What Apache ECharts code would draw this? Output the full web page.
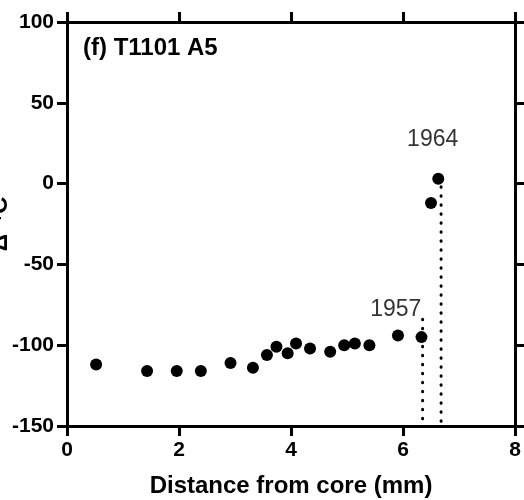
<!DOCTYPE html>
<html>
<head>
    <meta charset="UTF-8" />
    <title>T1101 A5</title>
    <script src="https://cdn.jsdelivr.net/npm/echarts@6/dist/echarts.min.js"></script>
    <style>
        html, body { margin: 0; padding: 0; background: #fff; }
        #chart { width: 524px; height: 500px; }
    </style>
</head>
<body>
    <div id="chart"></div>
<script type="text/javascript">
    // 距髓心距离 (mm) 与 Δ14C 值
    var distance = [0.52, 1.43, 1.96, 2.39, 2.92, 3.32, 3.57, 3.74, 3.94, 4.09, 4.34, 4.70, 4.95, 5.14, 5.40, 5.91, 6.33, 6.50, 6.63];
    var d14c = [-112, -116, -116, -116, -111, -114, -106, -101, -105, -99, -102, -104, -100, -99, -100, -94, -95, -12, 3];
    // 年份标注
    var yearNames = ['1957', '1964'];
    var yearX = [5.87, 6.53];
    var yearY = [-78, 27];
    // 虚线 (x, 上端, 下端)
    var dropX = [6.35, 6.68];
    var dropTop = [-84, -2];
    var dropBottom = [-150, -150];
    var xTicks = [0, 2, 4, 6, 8];
    var yTicks = [-150, -100, -50, 0, 50, 100];

    var font = 'Liberation Sans, Arial, Helvetica, sans-serif';

    var points = [];
    for (var i = 0; i < distance.length; i++) {
        points.push([distance[i], d14c[i]]);
    }
    var years = [];
    for (var j = 0; j < yearNames.length; j++) {
        years.push([yearX[j], yearY[j], yearNames[j]]);
    }

    var series = [];
    // 虚线
    for (var k = 0; k < dropX.length; k++) {
        series.push({
            type: 'line',
            data: [[dropX[k], dropTop[k]], [dropX[k], dropBottom[k]]],
            symbol: 'none',
            silent: true,
            lineStyle: { color: '#000', width: 3, type: [0.5, 8.5], cap: 'round' },
            z: 1
        });
    }
    series.push({
        type: 'scatter',
        data: points,
        symbol: 'circle',
        symbolSize: 12,
        itemStyle: { color: '#000', opacity: 1 },
        z: 3
    });
    series.push({
        type: 'scatter',
        data: years,
        symbolSize: 0,
        silent: true,
        label: {
            show: true,
            position: 'inside',
            formatter: function (p) { return p.value[2]; },
            color: '#000',
            fontFamily: font,
            fontSize: 23
        },
        z: 4
    });

    function axisBase() {
        return {
            axisLine: { show: true, onZero: false, lineStyle: { color: '#000', width: 3 } },
            axisTick: { show: true, inside: false, length: 10, lineStyle: { color: '#000', width: 3 } },
            splitLine: { show: false }
        };
    }

    var xBottom = axisBase();
    xBottom.type = 'value';
    xBottom.min = xTicks[0];
    xBottom.max = xTicks[xTicks.length - 1];
    xBottom.interval = xTicks[1] - xTicks[0];
    xBottom.position = 'bottom';
    xBottom.axisLabel = { show: true, margin: 14, color: '#000', fontFamily: font, fontWeight: 'bold', fontSize: 21 };
    xBottom.name = 'Distance from core (mm)';
    xBottom.nameLocation = 'middle';
    xBottom.nameGap = 48;
    xBottom.nameMoveOverlap = false;
    xBottom.nameTextStyle = { color: '#000', fontFamily: font, fontWeight: 'bold', fontSize: 24 };

    var xTop = axisBase();
    xTop.type = 'value';
    xTop.min = xBottom.min;
    xTop.max = xBottom.max;
    xTop.interval = xBottom.interval;
    xTop.position = 'top';
    xTop.axisLabel = { show: false };

    var yLeft = axisBase();
    yLeft.type = 'value';
    yLeft.min = yTicks[0];
    yLeft.max = yTicks[yTicks.length - 1];
    yLeft.interval = yTicks[1] - yTicks[0];
    yLeft.position = 'left';
    yLeft.axisLabel = { show: true, margin: 13, color: '#000', fontFamily: font, fontWeight: 'bold', fontSize: 21 };
    yLeft.name = 'Δ¹⁴C';
    yLeft.nameLocation = 'middle';
    yLeft.nameGap = 55;
    yLeft.nameMoveOverlap = false;
    yLeft.nameTextStyle = { color: '#000', fontFamily: font, fontWeight: 'bold', fontSize: 24 };

    var yRight = axisBase();
    yRight.type = 'value';
    yRight.min = yLeft.min;
    yRight.max = yLeft.max;
    yRight.interval = yLeft.interval;
    yRight.position = 'right';
    yRight.axisLabel = { show: false };

    var myChart = echarts.init(document.getElementById('chart'), null, { renderer: 'canvas' });
    var option = {
        animation: false,
        backgroundColor: '#fff',
        title: {
            text: '(f) T1101 A5',
            left: 78,
            top: 31,
            textStyle: { color: '#000', fontFamily: font, fontWeight: 'bold', fontSize: 24 }
        },
        grid: { left: 67, right: 9, top: 22, bottom: 74, containLabel: false, outerBoundsMode: 'none' },
        xAxis: [xBottom, xTop],
        yAxis: [yLeft, yRight],
        series: series
    };
    myChart.setOption(option);
</script>
</body>
</html>
